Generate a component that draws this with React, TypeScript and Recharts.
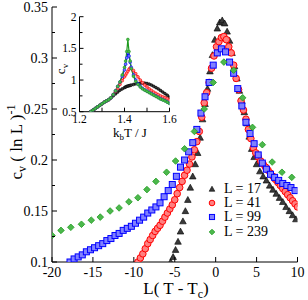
import React from "react";
import { ScatterChart, Scatter, LineChart, Line, XAxis, YAxis, Legend } from "recharts";

const SERIES_NAMES = ["L = 17", "L = 41", "L = 99", "L = 239"];

// main panel: L(T - Tc) vs cv (ln L)^-1
const X_17 = [-5.5, -5.2, -4.9, -4.6, -4.3, -4.0, -3.7, -3.4, -3.1, -2.8, -2.5, -2.2, -1.9, -1.6, -1.3, -1.0, -0.7, -0.4, -0.1, 0.2, 0.5, 0.8, 1.1, 1.4, 1.7, 2.0, 2.3, 2.6, 2.9, 3.2, 3.5, 3.8, 4.1, 4.4, 4.7, 5.0, 5.4, 5.8, 6.2, 6.6, 7.0, 7.4, 7.8, 8.2, 8.6, 9.0, 9.4, 9.8];
const Y_17 = [0.100, 0.105, 0.112, 0.120, 0.130, 0.140, 0.150, 0.161, 0.173, 0.184, 0.196, 0.207, 0.222, 0.240, 0.255, 0.270, 0.287, 0.303, 0.318, 0.329, 0.335, 0.337, 0.334, 0.326, 0.317, 0.305, 0.292, 0.280, 0.268, 0.258, 0.247, 0.236, 0.223, 0.211, 0.203, 0.196, 0.189, 0.184, 0.180, 0.175, 0.171, 0.167, 0.163, 0.159, 0.154, 0.150, 0.146, 0.142];

const X_41 = [-9.5, -9.2, -8.9, -8.6, -8.3, -8.0, -7.7, -7.4, -7.1, -6.8, -6.5, -6.2, -5.9, -5.6, -5.3, -5.0, -4.7, -4.4, -4.1, -3.8, -3.5, -3.2, -2.9, -2.6, -2.3, -2.0, -1.7, -1.4, -1.1, -0.8, -0.5, -0.2, 0.1, 0.4, 0.7, 1.0, 1.3, 1.6, 1.9, 2.2, 2.5, 2.8, 3.1, 3.4, 3.7, 4.0, 4.3, 4.6, 4.9, 5.2, 5.5, 5.8, 6.1, 6.4, 6.7, 7.0, 7.3, 7.6, 7.9, 8.2, 8.5, 8.8, 9.1, 9.4, 9.7, 10.0];
const Y_41 = [0.100, 0.104, 0.108, 0.113, 0.118, 0.122, 0.126, 0.130, 0.133, 0.136, 0.140, 0.144, 0.148, 0.152, 0.156, 0.161, 0.167, 0.173, 0.179, 0.185, 0.190, 0.196, 0.203, 0.210, 0.218, 0.228, 0.242, 0.256, 0.266, 0.276, 0.290, 0.302, 0.311, 0.316, 0.320, 0.321, 0.318, 0.311, 0.305, 0.293, 0.280, 0.269, 0.258, 0.249, 0.240, 0.230, 0.221, 0.212, 0.207, 0.203, 0.199, 0.196, 0.193, 0.190, 0.187, 0.184, 0.181, 0.178, 0.175, 0.172, 0.169, 0.166, 0.163, 0.160, 0.157, 0.154];

const X_99 = [-17.8, -17.3, -16.8, -16.3, -15.8, -15.3, -14.8, -14.3, -13.8, -13.3, -12.8, -12.3, -11.8, -11.3, -10.8, -10.3, -9.8, -9.3, -8.8, -8.3, -7.8, -7.3, -6.8, -6.3, -5.8, -5.3, -4.8, -4.3, -3.8, -3.3, -2.8, -2.3, -1.8, -1.3, -0.8, -0.3, 0.2, 0.7, 1.2, 1.7, 2.2, 2.7, 3.2, 3.7, 4.2, 4.7, 5.2, 5.7, 6.2, 6.7, 7.2, 7.7, 8.2, 8.7, 9.2, 9.7];
const Y_99 = [0.100, 0.103, 0.105, 0.107, 0.110, 0.112, 0.114, 0.116, 0.118, 0.121, 0.123, 0.126, 0.128, 0.131, 0.133, 0.135, 0.138, 0.141, 0.144, 0.148, 0.151, 0.154, 0.158, 0.164, 0.170, 0.176, 0.184, 0.193, 0.200, 0.208, 0.217, 0.230, 0.246, 0.262, 0.276, 0.293, 0.305, 0.309, 0.306, 0.296, 0.285, 0.270, 0.253, 0.237, 0.226, 0.216, 0.205, 0.197, 0.191, 0.186, 0.183, 0.180, 0.177, 0.175, 0.173, 0.170];

const X_239 = [-20.0, -18.9, -17.7, -16.4, -15.2, -14.1, -12.9, -11.8, -10.6, -9.5, -8.4, -7.3, -6.0, -4.9, -3.8, -2.6, -1.4, -0.3, 1.0, 2.2, 3.3, 4.5, 5.7, 6.9, 8.1, 9.3];
const Y_239 = [0.126, 0.131, 0.134, 0.137, 0.141, 0.144, 0.150, 0.153, 0.159, 0.163, 0.171, 0.179, 0.188, 0.199, 0.211, 0.228, 0.250, 0.276, 0.296, 0.288, 0.261, 0.232, 0.215, 0.198, 0.188, 0.183];

const X_TICKS = [-20, -15, -10, -5, 0, 5, 10];
const Y_TICKS = [0.1, 0.125, 0.15, 0.175, 0.2, 0.225, 0.25, 0.275, 0.3, 0.325, 0.35];

// inset: kbT/J vs cv
const INSET_T = [1.25, 1.26, 1.27, 1.28, 1.29, 1.30, 1.31, 1.32, 1.33, 1.34, 1.35, 1.36, 1.37, 1.38, 1.39, 1.40, 1.405, 1.41, 1.415, 1.42, 1.425, 1.43, 1.44, 1.45, 1.46, 1.47, 1.48, 1.49, 1.50, 1.51, 1.52, 1.53, 1.54, 1.55, 1.56, 1.57, 1.58, 1.59, 1.60];
const INSET_17 = [0.50, 0.525, 0.55, 0.575, 0.60, 0.625, 0.65, 0.67, 0.69, 0.72, 0.75, 0.78, 0.81, 0.84, 0.86, 0.88, 0.89, 0.90, 0.905, 0.91, 0.915, 0.92, 0.93, 0.94, 0.945, 0.95, 0.95, 0.95, 0.945, 0.935, 0.92, 0.90, 0.88, 0.86, 0.835, 0.81, 0.785, 0.76, 0.73];
const INSET_41 = [0.50, 0.525, 0.55, 0.575, 0.60, 0.625, 0.65, 0.67, 0.69, 0.72, 0.77, 0.82, 0.87, 0.93, 0.99, 1.05, 1.08, 1.11, 1.14, 1.17, 1.19, 1.185, 1.15, 1.10, 1.05, 1.00, 0.96, 0.92, 0.89, 0.86, 0.835, 0.81, 0.79, 0.77, 0.75, 0.735, 0.72, 0.705, 0.69];
const INSET_99 = [0.50, 0.525, 0.55, 0.575, 0.60, 0.625, 0.65, 0.67, 0.69, 0.72, 0.77, 0.83, 0.90, 0.97, 1.06, 1.16, 1.25, 1.35, 1.43, 1.38, 1.28, 1.20, 1.08, 1.00, 0.94, 0.90, 0.87, 0.845, 0.825, 0.805, 0.785, 0.765, 0.745, 0.725, 0.705, 0.69, 0.675, 0.655, 0.635];
const INSET_239 = [0.50, 0.525, 0.55, 0.575, 0.60, 0.625, 0.65, 0.67, 0.69, 0.72, 0.77, 0.83, 0.90, 0.97, 1.08, 1.20, 1.30, 1.45, 1.64, 1.45, 1.30, 1.18, 1.06, 0.98, 0.93, 0.89, 0.86, 0.84, 0.82, 0.80, 0.78, 0.76, 0.74, 0.72, 0.70, 0.685, 0.67, 0.65, 0.63];

const INSET_X_TICKS = [1.2, 1.3, 1.4, 1.5, 1.6];
const INSET_Y_TICKS = [0.5, 0.75, 1, 1.25, 1.5, 1.75, 2];

const FONT = "Liberation Serif, Times New Roman, serif";
const COLORS = ["#000000", "#ff0000", "#0000ff", "#1f9a1f"];
const FILLS = ["#3a3a3a", "#ff8080", "#8080ff", "#4cb84c"];

const pts = (xs: number[], ys: number[]) => xs.map((x, i) => ({ x, y: ys[i] }));
const insetPts = (cs: number[]) => INSET_T.map((t, i) => ({ t, c: cs[i] }));

function Marker({ kind, cx, cy, s = 1 }: { kind: number; cx: number; cy: number; s?: number }) {
    const stroke = COLORS[kind];
    const fill = FILLS[kind];
    if (kind === 0) {
        const r = 3.3 * s;
        return <polygon points={`${cx},${cy - r} ${cx - r},${cy + r * 0.8} ${cx + r},${cy + r * 0.8}`} fill={fill} stroke={stroke} strokeWidth={0.6} />;
    }
    if (kind === 1) return <circle cx={cx} cy={cy} r={3.3 * s} fill={fill} stroke={stroke} strokeWidth={1} />;
    if (kind === 2) {
        const h = 3 * s;
        return <rect x={cx - h} y={cy - h} width={2 * h} height={2 * h} fill={fill} stroke={stroke} strokeWidth={1} />;
    }
    const d = 3.3 * s;
    return <polygon points={`${cx},${cy - d} ${cx + d},${cy} ${cx},${cy + d} ${cx - d},${cy}`} fill={fill} stroke={stroke} strokeWidth={0.8} />;
}

const shapeFor = (kind: number) => (p: any) => <Marker kind={kind} cx={p.cx} cy={p.cy} />;

type Side = "bottom" | "top" | "left" | "right";

function makeTick(side: Side, isMajor: (v: number) => boolean, fmt: ((v: number) => string) | null, fontSize: number, major: number, minor: number, gap: number) {
    return (props: any) => {
        const { x, y, payload } = props;
        const v = payload.value;
        const big = isMajor(v);
        const len = big ? major : minor;
        const label = big && fmt ? fmt(v) : null;
        let line;
        let text = null;
        if (side === "bottom") {
            line = <line x1={x} x2={x} y1={y} y2={y - len} stroke="#000" />;
            if (label) text = <text x={x} y={y + gap} textAnchor="middle" fontSize={fontSize} fontFamily={FONT} fill="#000">{label}</text>;
        } else if (side === "top") {
            line = <line x1={x} x2={x} y1={y} y2={y + len} stroke="#000" />;
        } else if (side === "left") {
            line = <line x1={x} x2={x + len} y1={y} y2={y} stroke="#000" />;
            if (label) text = <text x={x - gap} y={y + fontSize * 0.35} textAnchor="end" fontSize={fontSize} fontFamily={FONT} fill="#000">{label}</text>;
        } else {
            line = <line x1={x} x2={x - len} y1={y} y2={y} stroke="#000" />;
        }
        return (
            <g>
                {line}
                {text}
            </g>
        );
    };
}

const mainXMajor = () => true;
const mainYMajor = (v: number) => Math.round(v * 40) % 2 === 0;
const insetXMajor = (v: number) => Math.round(v * 10) % 2 === 0;
const insetYMajor = (v: number) => Math.round(v * 4) % 2 === 0;
const fmtNum = (v: number) => String(Math.round(v * 1000) / 1000);

function MainYLabel() {
    return (
        <text x={22} y={142} transform="rotate(-90, 22, 142)" textAnchor="middle" fontSize={17} fontFamily={FONT} fill="#000">
            c<tspan fontSize={12} dy={4}>v</tspan>
            <tspan dy={-4}> ( ln L )</tspan>
            <tspan fontSize={12} dy={-7}>-1</tspan>
        </text>
    );
}

function MainXLabel() {
    return (
        <text x={176} y={294} textAnchor="middle" fontSize={17} fontFamily={FONT} fill="#000">
            L( T - T<tspan fontSize={12} dy={4}>c</tspan>
            <tspan dy={-4}>)</tspan>
        </text>
    );
}

function InsetYLabel() {
    return (
        <text x={25} y={64} transform="rotate(-90, 25, 64)" textAnchor="middle" fontSize={13} fontFamily={FONT} fill="#000">
            c<tspan fontSize={9} dy={3}>v</tspan>
        </text>
    );
}

function InsetXLabel() {
    return (
        <text x={90} y={132} textAnchor="middle" fontSize={13} fontFamily={FONT} fill="#000">
            k<tspan fontSize={9} dy={3}>b</tspan>
            <tspan dy={-3}>T / J</tspan>
        </text>
    );
}

function LegendBox(props: any) {
    const payload = [...(props.payload || [])].sort((a: any, b: any) => SERIES_NAMES.indexOf(a.value) - SERIES_NAMES.indexOf(b.value));
    return (
        <div style={{ fontFamily: FONT, fontSize: 14, color: "#000" }}>
            {payload.map((entry: any) => {
                const k = SERIES_NAMES.indexOf(entry.value);
                return (
                    <div key={entry.value} style={{ display: "flex", alignItems: "center", height: 14.2 }}>
                        <svg width={20} height={14}>
                            <Marker kind={k} cx={8} cy={7} s={0.85} />
                        </svg>
                        <span style={{ whiteSpace: "pre" }}>{entry.value}</span>
                    </div>
                );
            })}
        </div>
    );
}

const InsetDot = (kind: number) => (p: any) => {
    if (p.cx == null || p.cy == null) return <g key={p.index} />;
    return <circle key={p.index} cx={p.cx} cy={p.cy} r={1.4} fill={FILLS[kind]} stroke={COLORS[kind]} strokeWidth={0.6} />;
};

export default function App() {
    const main = [pts(X_17, Y_17), pts(X_41, Y_41), pts(X_99, Y_99), pts(X_239, Y_239)];
    const inset = [insetPts(INSET_17), insetPts(INSET_41), insetPts(INSET_99), insetPts(INSET_239)];
    return (
        <div style={{ position: "absolute", left: 0, top: 0, width: 308, height: 300, background: "#fff", fontFamily: FONT }}>
            <ScatterChart width={308} height={300} margin={{ top: 7, right: 10.5, left: 0, bottom: 0 }}>
                <XAxis type="number" dataKey="x" domain={[-20, 10]} ticks={X_TICKS} interval={0} allowDataOverflow height={38} tickSize={0} tickMargin={0} stroke="#000" tick={makeTick("bottom", mainXMajor, fmtNum, 14, 5, 3, 15)} label={<MainXLabel />} />
                <XAxis xAxisId="top" orientation="top" type="number" domain={[-20, 10]} ticks={X_TICKS} interval={0} allowDataOverflow height={0} tickSize={0} tickMargin={0} stroke="#000" tick={makeTick("top", mainXMajor, null, 14, 5, 3, 0)} />
                <YAxis type="number" dataKey="y" domain={[0.1, 0.35]} ticks={Y_TICKS} interval={0} allowDataOverflow width={52} tickSize={0} tickMargin={0} stroke="#000" tick={makeTick("left", mainYMajor, fmtNum, 14, 5, 3, 4)} label={<MainYLabel />} />
                <YAxis yAxisId="right" orientation="right" type="number" domain={[0.1, 0.35]} ticks={Y_TICKS} interval={0} allowDataOverflow width={0} tickSize={0} tickMargin={0} stroke="#000" tick={makeTick("right", mainYMajor, null, 14, 5, 3, 0)} />
                {main.map((d, k) => (
                    <Scatter key={SERIES_NAMES[k]} name={SERIES_NAMES[k]} data={d} fill={COLORS[k]} shape={shapeFor(k)} isAnimationActive={false} />
                ))}
                <Legend layout="vertical" align="center" verticalAlign="middle" content={<LegendBox />} wrapperStyle={{ left: 204, top: 182, width: 80, height: 60 }} />
            </ScatterChart>
            <div style={{ position: "absolute", left: 40, top: 5 }}>
                <LineChart width={140} height={140} margin={{ top: 11.7, right: 10.5, left: 0, bottom: 0 }}>
                    <XAxis type="number" dataKey="t" domain={[1.2, 1.6]} ticks={INSET_X_TICKS} interval={0} allowDataOverflow height={33.3} tickSize={0} tickMargin={0} stroke="#000" tick={makeTick("bottom", insetXMajor, fmtNum, 11.5, 4, 4, 11)} label={<InsetXLabel />} />
                    <XAxis xAxisId="top" orientation="top" type="number" domain={[1.2, 1.6]} ticks={INSET_X_TICKS} interval={0} allowDataOverflow height={0} tickSize={0} tickMargin={0} stroke="#000" tick={makeTick("top", insetXMajor, null, 11.5, 4, 4, 0)} />
                    <YAxis type="number" domain={[0.5, 2]} ticks={INSET_Y_TICKS} interval={0} allowDataOverflow width={39.5} tickSize={0} tickMargin={0} stroke="#000" tick={makeTick("left", insetYMajor, fmtNum, 11.5, 4, 3, 3)} label={<InsetYLabel />} />
                    <YAxis yAxisId="right" orientation="right" type="number" domain={[0.5, 2]} ticks={INSET_Y_TICKS} interval={0} allowDataOverflow width={0} tickSize={0} tickMargin={0} stroke="#000" tick={makeTick("right", insetYMajor, null, 11.5, 4, 3, 0)} />
                    {inset.map((d, k) => (
                        <Line key={SERIES_NAMES[k]} data={d} dataKey="c" type="linear" stroke={COLORS[k]} strokeWidth={1.2} dot={InsetDot(k)} activeDot={false} isAnimationActive={false} />
                    ))}
                </LineChart>
            </div>
        </div>
    );
}
